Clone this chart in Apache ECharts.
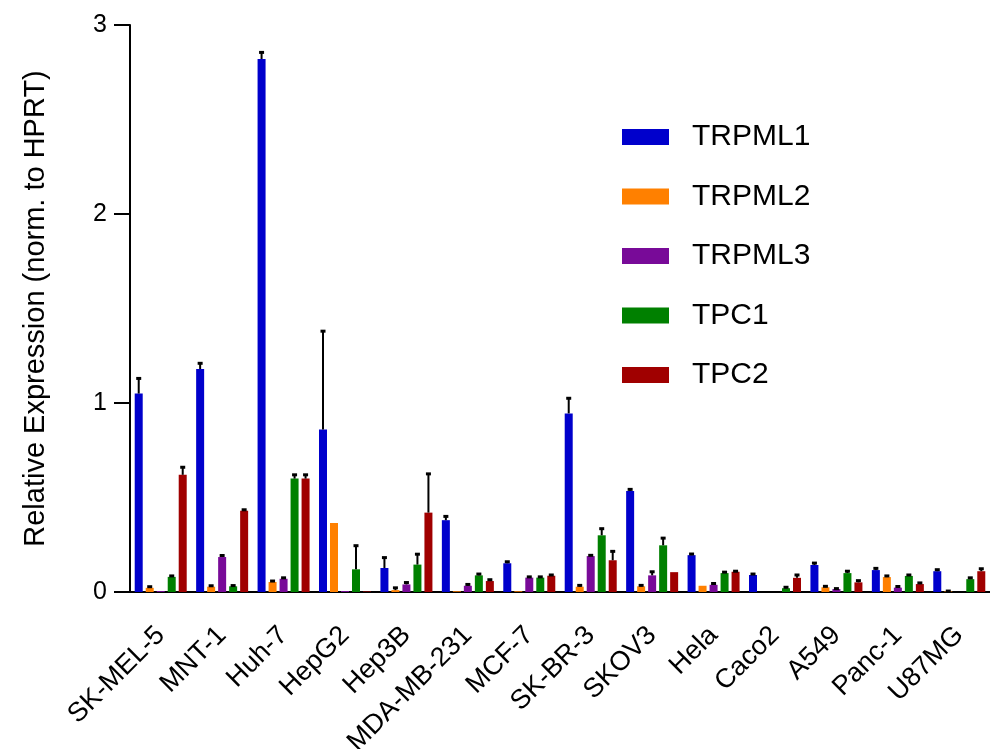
<!DOCTYPE html>
<html>
<head>
<meta charset="utf-8">
<script src="https://cdn.jsdelivr.net/npm/echarts@6/dist/echarts.min.js"></script>
<style>html,body{margin:0;padding:0;background:#fff;}#chart{width:990px;height:749px;}</style>
</head>
<body>
<div id="chart"></div>
<script>
const categories = ['SK-MEL-5','MNT-1','Huh-7','HepG2','Hep3B','MDA-MB-231','MCF-7','SK-BR-3','SKOV3','Hela','Caco2','A549','Panc-1','U87MG'];
const seriesNames = ['TRPML1','TRPML2','TRPML3','TPC1','TPC2'];
const trpml1 = [1.05, 1.18, 2.82, 0.86, 0.127, 0.38, 0.152, 0.945, 0.535, 0.195, 0.09, 0.143, 0.116, 0.11];
const trpml1Err = [0.08, 0.03, 0.035, 0.52, 0.055, 0.02, 0.008, 0.08, 0.008, 0.006, 0.005, 0.01, 0.009, 0.008];
const trpml2 = [0.022, 0.028, 0.053, 0.365, 0.01, 0.004, 0.004, 0.028, 0.03, 0.033, 0, 0.025, 0.079, 0.003];
const trpml2Err = [0.006, 0.005, 0.005, 0, 0.012, 0, 0, 0.007, 0.005, 0, 0, 0.005, 0.006, 0.002];
const trpml3 = [0.005, 0.185, 0.07, 0.005, 0.04, 0.033, 0.076, 0.19, 0.088, 0.038, 0, 0.016, 0.023, 0];
const trpml3Err = [0, 0.008, 0.005, 0, 0.01, 0.007, 0.004, 0.004, 0.019, 0.007, 0, 0.002, 0.006, 0];
const tpc1 = [0.08, 0.03, 0.60, 0.12, 0.145, 0.088, 0.076, 0.30, 0.247, 0.10, 0.02, 0.10, 0.085, 0.068];
const tpc1Err = [0.005, 0.004, 0.02, 0.125, 0.055, 0.007, 0.004, 0.035, 0.038, 0.005, 0.005, 0.01, 0.005, 0.007];
const tpc2 = [0.62, 0.43, 0.60, 0.003, 0.42, 0.058, 0.086, 0.168, 0.105, 0.107, 0.075, 0.051, 0.042, 0.11];
const tpc2Err = [0.04, 0.005, 0.02, 0, 0.205, 0.007, 0.004, 0.047, 0, 0.003, 0.015, 0.009, 0.006, 0.013];
const yTicks = [0, 1, 2, 3];

const values = [trpml1, trpml2, trpml3, tpc1, tpc2];
const errors = [trpml1Err, trpml2Err, trpml3Err, tpc1Err, tpc2Err];
const colors = ['#0000CC', '#FF8000', '#780A98', '#008000', '#A00000'];
const FONT = '"Liberation Sans", Arial, sans-serif';
const BAR_W = 8, BAR_GAP = 3;
const nS = seriesNames.length;

const series = [];
seriesNames.forEach((name, s) => {
  series.push({
    name: name, type: 'bar', data: values[s],
    barWidth: BAR_W, barGap: (BAR_GAP / BAR_W * 100) + '%',
    itemStyle: { color: colors[s] }, z: 2
  });
});
seriesNames.forEach((name, s) => {
  const offset = (s - (nS - 1) / 2) * (BAR_W + BAR_GAP);
  series.push({
    type: 'custom', name: name + ' err', z: 5, silent: true,
    data: values[s].map((v, i) => [i, v, errors[s][i]]),
    encode: { x: 0, y: 1 },
    renderItem: function (params, api) {
      const i = api.value(0), v = api.value(1), e = api.value(2);
      if (!(e > 0)) return null;
      const p0 = api.coord([i, v]);
      const p1 = api.coord([i, v + e]);
      const x = p0[0] + offset;
      return {
        type: 'group',
        children: [
          { type: 'line', shape: { x1: x, y1: p0[1], x2: x, y2: p1[1] }, style: { stroke: '#000', lineWidth: 2 } },
          { type: 'rect', shape: { x: x - 2.5, y: p1[1] - 1.5, width: 5, height: 3 }, style: { fill: '#000' } }
        ]
      };
    }
  });
});

const chart = echarts.init(document.getElementById('chart'), null, { renderer: 'canvas' });
chart.setOption({
  animation: false,
  backgroundColor: '#fff',
  textStyle: { fontFamily: FONT },
  grid: { left: 130, right: 0, top: 25, bottom: 157, containLabel: false, outerBoundsMode: 'none' },
  legend: {
    data: seriesNames,
    orient: 'vertical', left: 617, top: 117,
    itemWidth: 47, itemHeight: 16, itemGap: 29.5,
    icon: 'rect',
    textStyle: { fontSize: 30, lineHeight: 30, color: '#000', fontFamily: FONT, padding: [0, 0, 0, 18] }
  },
  xAxis: {
    type: 'category', data: categories,
    axisLine: { lineStyle: { color: '#000', width: 2 } },
    axisTick: { alignWithLabel: true, length: 16, lineStyle: { color: '#000', width: 2 } },
    axisLabel: { rotate: 45, fontSize: 27, color: '#000', margin: 39, fontFamily: FONT, interval: 0 }
  },
  yAxis: {
    type: 'value', min: 0, max: 3, interval: 1,
    name: 'Relative Expression (norm. to HPRT)',
    nameLocation: 'middle', nameGap: 80,
    nameTextStyle: { fontSize: 29, color: '#000', fontFamily: FONT },
    axisLine: { show: true, lineStyle: { color: '#000', width: 2 } },
    axisTick: { show: true, length: 16, lineStyle: { color: '#000', width: 2 } },
    axisLabel: { fontSize: 25, color: '#000', margin: 23, fontFamily: FONT,
      formatter: v => yTicks.includes(v) ? String(v) : '' },
    splitLine: { show: false }
  },
  series: series
});
</script>
</body>
</html>
